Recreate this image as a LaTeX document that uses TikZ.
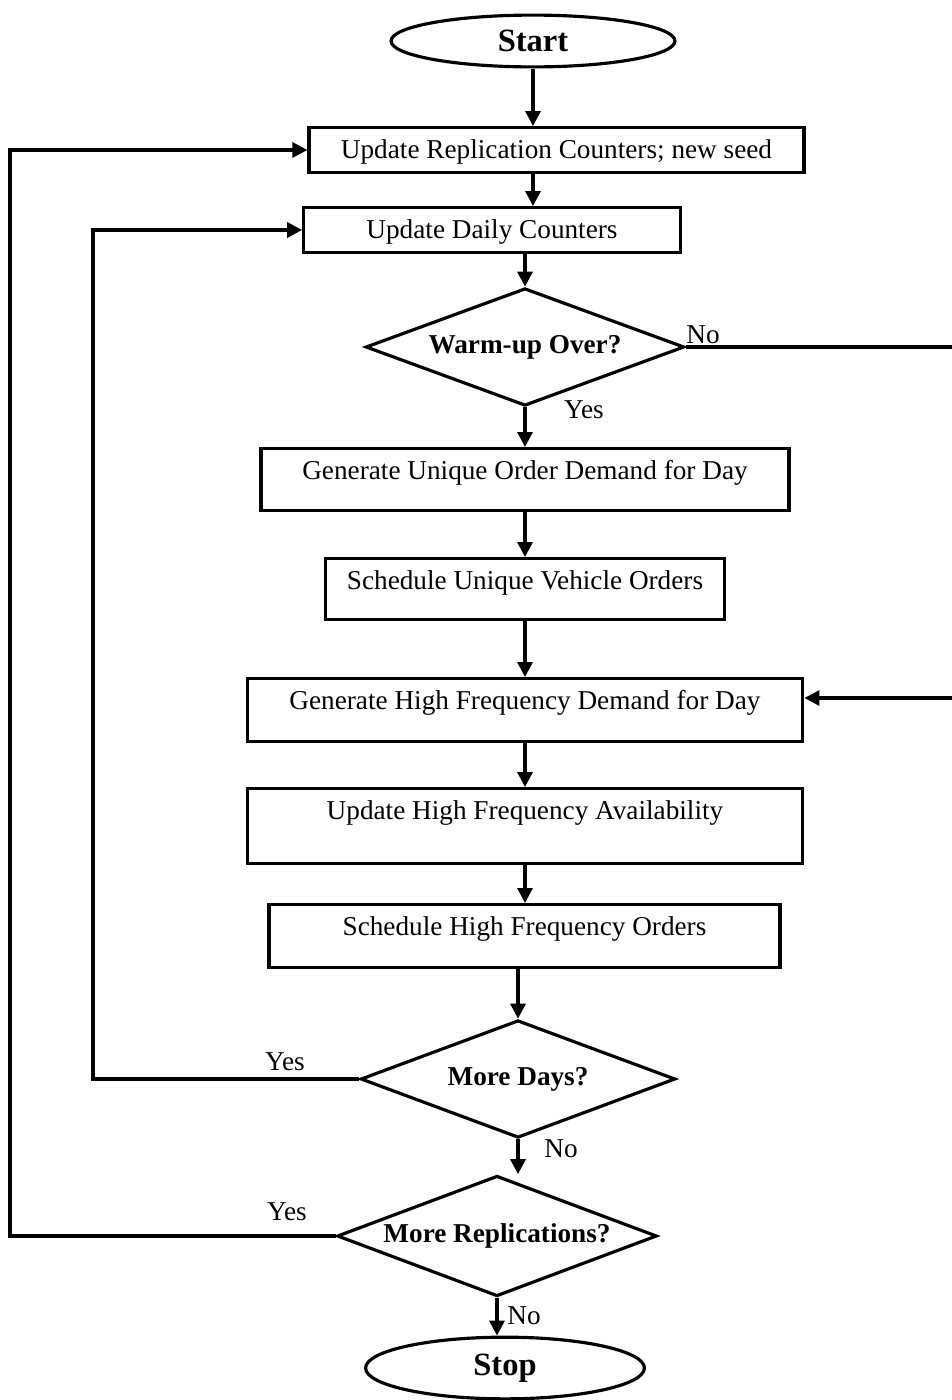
\documentclass[tikz,border=0pt]{standalone}
\usepackage{fontspec}
\setmainfont{Liberation Serif}
\usetikzlibrary{positioning}
\usetikzlibrary{shapes.geometric}
\usetikzlibrary{arrows.meta}

\begin{document}
\begin{tikzpicture}[x=0.02cm,y=-0.02cm]
		\tikzset{
			procbox/.style={draw=black,line width=1.8pt,rectangle,anchor=north,inner xsep=0pt,inner ysep=5.6pt,text height=12pt,text depth=#1,font=\fontsize{15.5}{18}\selectfont},
			procbox/.default=2.3pt,
			terminal/.style={draw=black,line width=1.8pt,ellipse,inner sep=0pt,font=\fontsize{18.5}{22}\selectfont\bfseries},
			decision/.style={draw=black,line width=1.8pt,diamond,shape aspect=2.7,inner sep=0pt,font=\fontsize{15.5}{18}\selectfont\bfseries},
			lbl/.style={inner sep=0pt,font=\fontsize{15.5}{18}\selectfont},
		}
		\tikzset{
			edge/.style={color=black,line width=1.8pt},
			>={Triangle[length=8.5pt,width=8.5pt]},
		}
		\useasboundingbox (0,0) rectangle (952,1400);
		
		\node[terminal,minimum width=161.6pt,minimum height=29.5pt] (start) at (533,41) {Start};
		\node[procbox,minimum width=281.8pt] (repcnt) at (556.5,126) {Update Replication Counters; new seed};
		\node[procbox,minimum width=214.3pt] (daycnt) at (492,206) {Update Daily Counters};
		
		\node[decision,minimum width=181.4pt,minimum height=66.9pt] (warm) at (525,347) {Warm-up Over?};
		
		\node[procbox=12pt,minimum width=300.5pt] (uniqdem) at (525,447) {Generate Unique Order Demand for Day};
		\node[procbox=11.4pt,minimum width=226.8pt] (uniqsch) at (525,557) {Schedule Unique Vehicle Orders};
		\node[procbox=12.5pt,minimum width=316.3pt] (hfdem) at (525,677) {Generate High Frequency Demand for Day};
		\node[procbox=19.3pt,minimum width=316.3pt] (hfavail) at (525,787) {Update High Frequency Availability};
		\node[procbox=12.5pt,minimum width=290.8pt] (hfsch) at (524.5,903) {Schedule High Frequency Orders};
		
		\node[decision,minimum width=179.1pt,minimum height=66.9pt] (days) at (518,1079) {More Days?};
		\node[decision,minimum width=182pt,minimum height=68.6pt] (reps) at (497,1236) {More Replications?};
		\node[terminal,minimum width=158.7pt,minimum height=35.1pt] (stop) at (505,1368) {Stop};
		
		\node[lbl] (warmNo) at (703,335) {No};
		\node[lbl] (warmYes) at (584,410) {Yes};
		\node[lbl] (daysYes) at (285,1062) {Yes};
		\node[lbl] (daysNo) at (561,1149) {No};
		\node[lbl] (repsYes) at (287,1212) {Yes};
		\node[lbl] (repsNo) at (524,1316) {No};
		
		\coordinate (dayloop) at (93,0);
		\coordinate (reploop) at (10,0);
		\coordinate (skip) at (962,698);
		
		\draw[->,edge] (start.south) to (start.south |- repcnt.north);
		\draw[->,edge] (repcnt.south -| start.south) to (daycnt.north -| start.south);
		\draw[->,edge] (daycnt.south -| warm.north) to (warm.north);
		\draw[->,edge] (warm.south) to (uniqdem.north);
		\draw[->,edge] (uniqdem.south) to (uniqsch.north);
		\draw[->,edge] (uniqsch.south) to (hfdem.north);
		\draw[->,edge] (hfdem.south) to (hfavail.north);
		\draw[->,edge] (hfavail.south) to (hfavail.south |- hfsch.north);
		\draw[->,edge] (hfsch.south -| days.north) to (days.north);
		\draw[->,edge] (days.south) to (days.south |- reps.north);
		\draw[->,edge] (reps.south) to (reps.south |- stop.north);
		
		\draw[->,edge] (warm.east) -- (warm.east -| skip) -- (skip) -- (skip -| hfdem.east);
		\draw[->,edge] (days.west) -- (days.west -| dayloop) |- (daycnt.west);
		\draw[->,edge] (reps.west) -- (reps.west -| reploop) |- (repcnt.west);
	\end{tikzpicture}
\end{document}
